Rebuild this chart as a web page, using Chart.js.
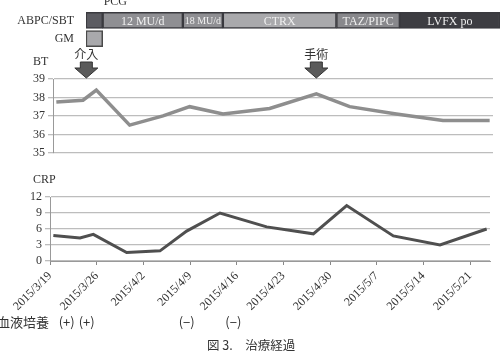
<!DOCTYPE html>
<html>
<head>
<meta charset="utf-8">
<script src="https://cdn.jsdelivr.net/npm/chart.js@4/dist/chart.umd.min.js"></script>
<style>
  body { margin: 0; background: #fff; }
  #wrap { position: relative; width: 500px; height: 357px; overflow: hidden; }
  canvas { position: absolute; left: 0; }
  #cap { position: absolute; left: 207px; top: 337px; font: 12.5px "Noto Sans CJK JP"; color: #333; line-height: 16px; white-space: pre; }
</style>
</head>
<body>
<div id="wrap">
  <canvas id="bt" width="500" height="119" style="top:44px"></canvas>
  <canvas id="drug" width="500" height="59" style="top:0"></canvas>
  <canvas id="crp" width="500" height="192" style="top:165px"></canvas>
  <div id="cap">図 3.　治療経過</div>
</div>
<script>
// dates counted in days from 2015/3/19
var sampleDates = ['2015/3/19', '2015/3/23', '2015/3/25', '2015/3/30', '2015/4/4', '2015/4/8', '2015/4/13',
                   '2015/4/20', '2015/4/27', '2015/5/2', '2015/5/9', '2015/5/16', '2015/5/23'];
var btValues = [37.75, 37.85, 38.4, 36.5, 37.0, 37.5, 37.1, 37.4, 38.2, 37.5, 37.1, 36.75, 36.75];
var crpValues = [4.8, 4.3, 5.0, 1.6, 1.9, 5.6, 9.0, 6.4, 5.1, 10.4, 4.7, 3.0, 6.0];
var tickLabels = ['2015/3/19', '2015/3/26', '2015/4/2', '2015/4/9', '2015/4/16', '2015/4/23',
                  '2015/4/30', '2015/5/7', '2015/5/14', '2015/5/21'];

var drugRows = ['ABPC/SBT', 'GM'];
var drugNames = ['', '12 MU/d', '18 MU/d', 'CTRX', 'TAZ/PIPC', 'LVFX po'];
var drugStart = [5, 7.5, 19.5, 25.5, 42.5, 52];
var drugEnd = [7.5, 19.5, 25.5, 42.5, 52, 67];
var gmStart = 5, gmEnd = 7.5;

var eventLabels = ['介入', '手術'];
var eventDays = [5, 39.5];

var cultureDates = ['2015/3/21', '2015/3/24', '2015/4/8', '2015/4/15'];
var cultureResults = ['(+)', '(+)', '(−)', '(−)'];

var SERIF = '"Liberation Serif", "DejaVu Serif", serif';
var JP = '"Noto Sans CJK JP", sans-serif';
var drugColors = ['#5c5c62', '#8f8f93', '#8f8f93', '#a9a9ac', '#88888c', '#3d3d42'];

function dayOf(s) {
  var p = s.split('/');
  return (Date.UTC(+p[0], +p[1] - 1, +p[2]) - Date.UTC(2015, 2, 19)) / 864e5 + 0.5;
}

Chart.defaults.animation = false;
Chart.defaults.plugins.legend.display = false;
Chart.defaults.plugins.tooltip.enabled = false;

// treatment timeline
var drugSets = drugNames.map(function(n, i) {
  return {
    label: n,
    data: [[drugStart[i], drugEnd[i]], null],
    backgroundColor: drugColors[i],
    borderColor: '#3a3a3f',
    borderWidth: 1.5,
    borderSkipped: false,
    barThickness: 16,
    grouped: false
  };
});
drugSets.push({
  label: '',
  data: [null, [gmStart, gmEnd]],
  backgroundColor: '#a9a9ac',
  borderColor: '#4a4a4a',
  borderWidth: 1.5,
  borderSkipped: false,
  barThickness: 16,
  grouped: false
});

var drugText = {
  id: 'drugText',
  afterDatasetsDraw: function(chart) {
    var ctx = chart.ctx;
    ctx.save();
    ctx.textAlign = 'center';
    ctx.textBaseline = 'middle';
    ctx.fillStyle = '#f0f0f0';
    drugNames.forEach(function(n, i) {
      if (!n) return;
      var bar = chart.getDatasetMeta(i).data[0];
      ctx.font = (n === '18 MU/d' ? '10px ' : '12px ') + SERIF;
      ctx.fillText(n, (bar.x + bar.base) / 2, bar.y + 1);
    });
    var pcg = chart.getDatasetMeta(1).data[0];
    ctx.fillStyle = '#333';
    ctx.textAlign = 'left';
    ctx.textBaseline = 'bottom';
    ctx.font = '12px ' + SERIF;
    ctx.fillText('PCG', pcg.base + 1, 8);
    ctx.restore();
  }
};

new Chart(document.getElementById('drug'), {
  type: 'bar',
  data: { labels: drugRows, datasets: drugSets },
  options: {
    responsive: false,
    indexAxis: 'y',
    layout: { padding: { top: 7, bottom: 2, left: 0, right: 0 } },
    scales: {
      x: { type: 'linear', min: 5, max: 67, display: false },
      y: {
        grid: { display: false },
        border: { display: false },
        ticks: { font: { family: SERIF, size: 12 }, color: '#333', padding: 4 },
        afterFit: function(s) { s.width = 86; }
      }
    }
  },
  plugins: [drugText]
});

// body temperature
var btExtras = {
  id: 'btExtras',
  afterDraw: function(chart) {
    var ctx = chart.ctx, x = chart.scales.x;
    ctx.save();
    ctx.fillStyle = '#333';
    ctx.font = '12px ' + SERIF;
    ctx.textBaseline = 'middle';
    ctx.fillText('BT', 33, 18);
    eventDays.forEach(function(d, i) {
      var px = x.getPixelForValue(d);
      ctx.font = '12px ' + JP;
      ctx.textAlign = 'center';
      ctx.fillStyle = '#333';
      ctx.fillText(eventLabels[i], px, 10);
      ctx.beginPath();
      ctx.moveTo(px - 6, 18);
      ctx.lineTo(px + 6, 18);
      ctx.lineTo(px + 6, 24);
      ctx.lineTo(px + 11.5, 24);
      ctx.lineTo(px, 34);
      ctx.lineTo(px - 11.5, 24);
      ctx.lineTo(px - 6, 24);
      ctx.closePath();
      ctx.fillStyle = '#5a5a5a';
      ctx.fill();
      ctx.strokeStyle = '#333';
      ctx.lineWidth = 1;
      ctx.stroke();
    });
    ctx.restore();
  }
};

new Chart(document.getElementById('bt'), {
  type: 'line',
  data: {
    datasets: [{
      data: sampleDates.map(function(d, i) { return { x: dayOf(d), y: btValues[i] }; }),
      borderColor: '#8e8e8e',
      borderWidth: 3.5,
      pointRadius: 0,
      tension: 0
    }]
  },
  options: {
    responsive: false,
    layout: { padding: { top: 35, bottom: 0, right: 7, left: 0 } },
    scales: {
      x: { type: 'linear', min: 0, max: 66, display: false },
      y: {
        min: 35, max: 39,
        ticks: { stepSize: 1, autoSkip: false, font: { family: SERIF, size: 12 }, color: '#333', padding: 3 },
        grid: { color: '#bdbdbd', lineWidth: 1.3, tickLength: 5 },
        border: { color: '#999' },
        afterFit: function(s) { s.width = 53; }
      }
    }
  },
  plugins: [btExtras]
});

// CRP
var crpExtras = {
  id: 'crpExtras',
  afterDraw: function(chart) {
    var ctx = chart.ctx, x = chart.scales.x;
    ctx.save();
    ctx.fillStyle = '#333';
    ctx.textBaseline = 'middle';
    ctx.font = '12px ' + SERIF;
    ctx.fillText('CRP', 33, 15);
    ctx.font = '13px ' + JP;
    ctx.fillText('血液培養', -3, 157);
    ctx.textAlign = 'center';
    cultureDates.forEach(function(d, i) {
      ctx.fillText(cultureResults[i], x.getPixelForValue(dayOf(d)), 157);
    });
    ctx.restore();
  }
};

new Chart(document.getElementById('crp'), {
  type: 'line',
  data: {
    datasets: [{
      data: sampleDates.map(function(d, i) { return { x: dayOf(d), y: crpValues[i] }; }),
      borderColor: '#4f4f4f',
      borderWidth: 3,
      pointRadius: 0,
      tension: 0
    }]
  },
  options: {
    responsive: false,
    layout: { padding: { top: 32, bottom: 0, right: 10, left: 0 } },
    scales: {
      x: {
        type: 'linear', min: 0, max: 66,
        afterBuildTicks: function(s) {
          s.ticks = tickLabels.map(function(t, i) { return { value: i * 7 }; });
        },
        ticks: {
          autoSkip: false, minRotation: 45, maxRotation: 45, padding: 4,
          font: { family: SERIF, size: 12 }, color: '#333',
          callback: function(v, i) { return tickLabels[i]; }
        },
        grid: { drawOnChartArea: false, color: '#888', tickLength: 4 },
        border: { color: '#999' },
        afterFit: function(s) { s.height = 96; }
      },
      y: {
        min: 0, max: 12,
        ticks: { stepSize: 3, autoSkip: false, font: { family: SERIF, size: 12 }, color: '#333', padding: 3 },
        grid: { color: '#bdbdbd', lineWidth: 1.3, tickLength: 5 },
        border: { color: '#999' },
        afterFit: function(s) { s.width = 50; }
      }
    }
  },
  plugins: [crpExtras]
});
</script>
</body>
</html>
